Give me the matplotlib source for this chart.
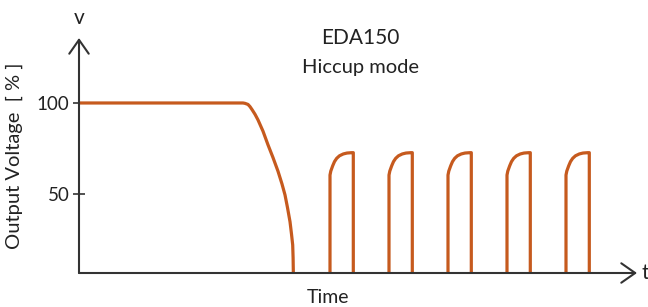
import matplotlib.pyplot as plt

# (time in arbitrary units, voltage in %)
drop_t = [0, 16.4, 16.6, 16.9, 17.1, 17.3, 17.6, 17.9, 18.4, 18.9, 19.4, 19.9,
          20.3, 20.6, 20.85, 21.1, 21.25, 21.37, 21.41, 21.43, 21.43]
drop_v = [100, 100, 99.8, 99.2, 98, 96.4, 93.8, 90.7, 84.5, 77, 70, 62.5,
          55.5, 49.5, 42.5, 34.8, 28, 22, 15, 8, 0]

# one hiccup pulse: offset from its start, value
pulse_dt = [0, 0, 0.08, 0.27, 0.45, 0.67, 0.95, 1.33, 1.7, 2.17, 2.33, 2.33]
pulse_v = [0, 60.4, 62.6, 65.5, 67.8, 69.6, 71, 72, 72.5, 72.7, 72.7, 0]
pulse_starts = [25.1, 31.0, 36.9, 42.8, 48.7]

y_ticks = [50, 100]
y_tick_labels = ['50', '100']

LINE = '#c65a1e'
AXIS = '#333333'
TEXT = '#222222'
plt.rcParams['font.family'] = ['Lato', 'DejaVu Sans']

fig = plt.figure(figsize=(6.48, 3.07), dpi=100)
ax = fig.add_axes([79/648, 34/307, (637-79)/648, (273-38)/307])
ax.set_xlim(0, 55.8)
ax.set_ylim(6.6, 135.7)

ax.plot(drop_t, drop_v, color=LINE, lw=2.3, solid_capstyle='butt')
for s in pulse_starts:
    ax.plot([s + d for d in pulse_dt], pulse_v, color=LINE, lw=2.3,
            solid_capstyle='butt', solid_joinstyle='round')

for sp in ['top', 'right', 'left', 'bottom']:
    ax.spines[sp].set_visible(False)

# axes with open arrow heads
arrow = dict(arrowstyle='->,head_length=0.5,head_width=0.35', lw=1.5,
             color=AXIS, mutation_scale=20, shrinkA=0, shrinkB=0)
ax.annotate('', xy=(1, 0), xytext=(0, 0), xycoords='axes fraction',
            textcoords='axes fraction', arrowprops=arrow)
ax.annotate('', xy=(0, 1), xytext=(0, 0), xycoords='axes fraction',
            textcoords='axes fraction', arrowprops=arrow)

ax.set_xticks([])
ax.set_yticks(y_ticks)
ax.set_yticklabels(y_tick_labels, fontsize=13.5, color=TEXT)
ax.tick_params(axis='y', direction='inout', length=8, width=1.2,
               color=AXIS, pad=3)

ax.set_ylabel('Output Voltage  [ % ]', fontsize=14.5, color=TEXT)
ax.yaxis.set_label_coords(-0.1, 0.5)
ax.set_xlabel('Time', fontsize=14, color=TEXT, labelpad=0)
ax.xaxis.set_label_coords((328-79)/558, -0.07)

fig.text(79/648, 1 - 18/307, 'v', fontsize=15, color=TEXT,
         ha='center', va='center')
fig.text(645/648, 1 - 273/307, 't', fontsize=15, color=TEXT,
         ha='center', va='center')
fig.text(360/648, 1 - 38/307, 'EDA150', fontsize=15, color=TEXT,
         ha='center', va='center')
fig.text(360/648, 1 - 67/307, 'Hiccup mode', fontsize=14.5, color=TEXT,
         ha='center', va='center')

fig.savefig('out.png', dpi=100)
